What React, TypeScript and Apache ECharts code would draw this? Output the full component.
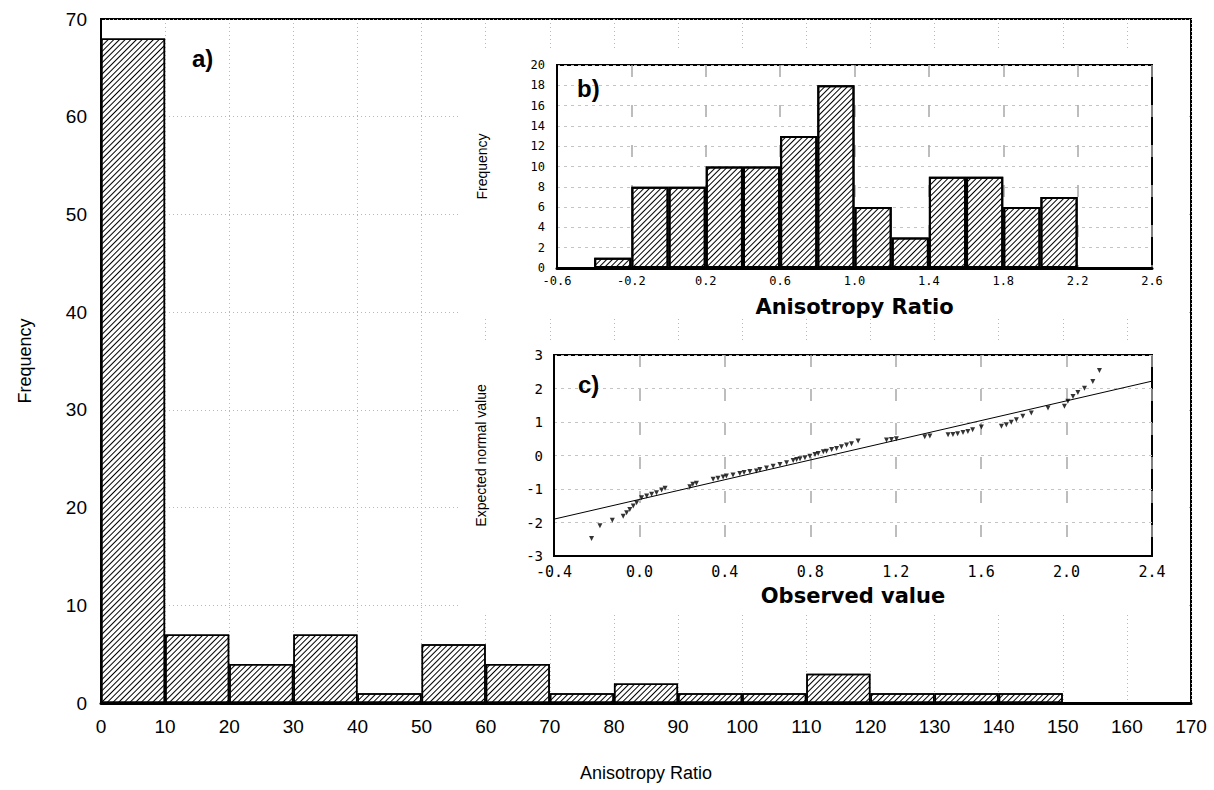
import React, { useEffect, useRef } from "react";
import * as echarts from "echarts";

// ---------- data ----------
// a) main histogram: bins of width 10, starting at these values
const mainBinStarts = [0, 10, 20, 30, 40, 50, 60, 70, 80, 90, 100, 110, 120, 130, 140];
const mainCounts = [68, 7, 4, 7, 1, 6, 4, 1, 2, 1, 1, 3, 1, 1, 1];
const mainBinWidth = 10;

// b) inset histogram: bins of width 0.2
const insetBinStarts = [-0.4, -0.2, 0, 0.2, 0.4, 0.6, 0.8, 1.0, 1.2, 1.4, 1.6, 1.8, 2.0];
const insetCounts = [1, 8, 8, 10, 10, 13, 18, 6, 3, 9, 9, 6, 7];
const insetBinWidth = 0.2;

// c) normal probability plot
const qqObserved = [
  -0.224, -0.185, -0.127, -0.076, -0.06, -0.045, -0.029, -0.013, 0.01, 0.034, 0.057, 0.08,
  0.104, 0.12, 0.236, 0.25, 0.267, 0.345, 0.368, 0.392, 0.407, 0.438, 0.47, 0.49, 0.517,
  0.548, 0.564, 0.595, 0.626, 0.658, 0.689, 0.72, 0.736, 0.752, 0.775, 0.798, 0.822, 0.837,
  0.861, 0.876, 0.9, 0.923, 0.946, 0.97, 0.993, 1.024, 1.157, 1.18, 1.203, 1.336, 1.36,
  1.445, 1.468, 1.49, 1.515, 1.538, 1.56, 1.601, 1.695, 1.718, 1.741, 1.765, 1.795, 1.835,
  1.913, 1.99, 2.006, 2.03, 2.053, 2.084, 2.123, 2.154,
];
const qqExpected = [
  -2.48, -2.1, -1.93, -1.81, -1.71, -1.61, -1.51, -1.41, -1.26, -1.21, -1.16, -1.11,
  -1.03, -0.98, -0.93, -0.86, -0.83, -0.71, -0.68, -0.64, -0.61, -0.58, -0.54, -0.51, -0.48,
  -0.46, -0.42, -0.37, -0.32, -0.27, -0.22, -0.15, -0.12, -0.1, -0.07, -0.02, 0.03, 0.06,
  0.11, 0.13, 0.18, 0.21, 0.26, 0.31, 0.35, 0.43, 0.46, 0.48, 0.5, 0.56, 0.58,
  0.62, 0.63, 0.65, 0.69, 0.72, 0.77, 0.85, 0.87, 0.92, 0.99, 1.07, 1.17, 1.27,
  1.42, 1.47, 1.62, 1.76, 1.88, 2.01, 2.21, 2.54,
];
const fitLineX = [-0.4, 2.4];
const fitLineY = [-1.9, 2.22];

// ---------- layout ----------
const W = 1214;
const H = 790;
const G0 = { left: 101, top: 19, width: 1090, height: 684 };
const G1 = { left: 557, top: 65, width: 595, height: 203 };
const G2 = { left: 554, top: 355, width: 598, height: 201 };

const fmt1 = (v: number) => (Math.abs(v) < 1e-9 ? "0.0" : v.toFixed(1));

const hatch = {
  symbol: "rect",
  symbolSize: 1,
  dashArrayX: [1, 0],
  dashArrayY: [1, 2.6],
  rotation: -Math.PI / 4,
  color: "#000",
  backgroundColor: "#fff",
};

export default function App() {
  const ref = useRef<HTMLDivElement>(null);
  useEffect(() => {
    if (!ref.current) return;
    const chart = echarts.init(ref.current, null, { renderer: "svg" });

    const mainData = mainBinStarts.map((s, i) => [s + mainBinWidth / 2, mainCounts[i]]);
    const insetData = insetBinStarts.map((s, i) => [s + insetBinWidth / 2, insetCounts[i]]);
    const qqData = qqObserved.map((x, i) => [x, qqExpected[i]]);
    const lineData = fitLineX.map((x, i) => [x, fitLineY[i]]);

    const mainFont = "'Liberation Sans Narrow', 'Liberation Sans', Arial, sans-serif";
    const monoFont = "'DejaVu Sans Mono', monospace";
    const wideBold = "'DejaVu Sans', Verdana, sans-serif";
    const arial = "'Liberation Sans', Arial, sans-serif";

    const mainBarW = (G0.width * mainBinWidth) / 170;
    const insetBarW = (G1.width * insetBinWidth) / 3.2;

    const insetHGrid = { show: true, lineStyle: { color: "#c4c4c4", type: [3, 4], width: 1 } };

    chart.setOption({
      animation: false,
      backgroundColor: "#fff",
      grid: [
        { ...G0, show: true, borderColor: "#000", borderWidth: 2, z: 0 },
        { ...G1, show: true, borderColor: "#000", borderWidth: 2, backgroundColor: "#fff", z: 5 },
        { ...G2, show: true, borderColor: "#000", borderWidth: 2, backgroundColor: "#fff", z: 5 },
      ],
      xAxis: [
        {
          gridIndex: 0,
          type: "value",
          min: 0,
          max: 170,
          interval: 10,
          name: "Anisotropy Ratio",
          nameLocation: "middle",
          nameGap: 61,
          nameTextStyle: { fontFamily: mainFont, fontSize: 18, color: "#000" },
          axisLine: { show: true, lineStyle: { color: "#000", width: 3 } },
          axisTick: { show: false },
          axisLabel: { fontFamily: mainFont, fontSize: 19, color: "#000", margin: 14 },
          splitLine: { show: true, lineStyle: { color: "#b8b8b8", type: [1, 3], width: 1 } },
        },
        {
          gridIndex: 1,
          type: "value",
          min: -0.6,
          max: 2.6,
          interval: 0.4,
          z: 6,
          name: "Anisotropy Ratio",
          nameLocation: "middle",
          nameGap: 28,
          nameTextStyle: { fontFamily: wideBold, fontSize: 21, fontWeight: "bold", color: "#000" },
          axisLine: { show: true, onZero: false, lineStyle: { color: "#000", width: 3 } },
          axisTick: { show: false },
          axisLabel: { fontFamily: monoFont, fontSize: 12, color: "#000", margin: 7, formatter: fmt1 },
          splitLine: { show: true, lineStyle: { color: "#a8a8a8", type: [12, 28], width: 1.5 } },
        },
        {
          gridIndex: 2,
          type: "value",
          min: -0.4,
          max: 2.4,
          interval: 0.4,
          z: 6,
          name: "Observed value",
          nameLocation: "middle",
          nameGap: 29,
          nameTextStyle: { fontFamily: wideBold, fontSize: 21, fontWeight: "bold", color: "#000" },
          axisLine: { show: true, onZero: false, lineStyle: { color: "#000", width: 2 } },
          axisTick: { show: false },
          axisLabel: { fontFamily: monoFont, fontSize: 15, color: "#000", margin: 8, formatter: fmt1 },
          splitLine: { show: true, lineStyle: { color: "#a8a8a8", type: [12, 22], width: 1.5 } },
        },
      ],
      yAxis: [
        {
          gridIndex: 0,
          type: "value",
          min: 0,
          max: 70,
          interval: 10,
          name: "Frequency",
          nameLocation: "middle",
          nameGap: 67,
          nameRotate: 90,
          nameTextStyle: { fontFamily: mainFont, fontSize: 18, color: "#000" },
          axisLine: { show: true, lineStyle: { color: "#000", width: 2 } },
          axisTick: { show: false },
          axisLabel: { fontFamily: mainFont, fontSize: 19, color: "#000", margin: 14 },
          splitLine: { show: true, lineStyle: { color: "#b8b8b8", type: [1, 3], width: 1 } },
        },
        {
          gridIndex: 1,
          type: "value",
          min: 0,
          max: 20,
          interval: 2,
          z: 6,
          name: "Frequency",
          nameLocation: "middle",
          nameGap: 68,
          nameRotate: 90,
          nameTextStyle: { fontFamily: arial, fontSize: 14, color: "#000" },
          axisLine: { show: true, onZero: false, lineStyle: { color: "#000", width: 2 } },
          axisTick: { show: false },
          axisLabel: { fontFamily: monoFont, fontSize: 12, color: "#000", margin: 12 },
          splitLine: insetHGrid,
        },
        {
          gridIndex: 2,
          type: "value",
          min: -3,
          max: 3,
          interval: 1,
          z: 6,
          name: "Expected normal value",
          nameLocation: "middle",
          nameGap: 66,
          nameRotate: 90,
          nameTextStyle: { fontFamily: arial, fontSize: 14, color: "#000" },
          axisLine: { show: true, onZero: false, lineStyle: { color: "#000", width: 2 } },
          axisTick: { show: false },
          axisLabel: { fontFamily: monoFont, fontSize: 14, color: "#000", margin: 11 },
          splitLine: insetHGrid,
        },
      ],
      graphic: [
        { type: "rect", z: 3, shape: { x: 458, y: 50, width: 730, height: 268 }, style: { fill: "#fff" } },
        { type: "rect", z: 3, shape: { x: 458, y: 340, width: 730, height: 272 }, style: { fill: "#fff" } },
        {
          type: "text", z: 20, x: 192, y: 46,
          style: { text: "a)", font: "bold 24px 'Liberation Sans', Arial, sans-serif", fill: "#000" },
        },
        {
          type: "text", z: 20, x: 577, y: 76,
          style: { text: "b)", font: "bold 24px 'Liberation Sans', Arial, sans-serif", fill: "#000" },
        },
        {
          type: "text", z: 20, x: 578, y: 372,
          style: { text: "c)", font: "bold 24px 'Liberation Sans', Arial, sans-serif", fill: "#000" },
        },
      ],
      series: [
        {
          type: "bar",
          xAxisIndex: 0,
          yAxisIndex: 0,
          barWidth: mainBarW,
          z: 2,
          data: mainData,
          itemStyle: { color: "#fff", borderColor: "#000", borderWidth: 1.5, decal: hatch },
        },
        {
          type: "bar",
          xAxisIndex: 1,
          yAxisIndex: 1,
          barWidth: insetBarW,
          z: 7,
          data: insetData,
          itemStyle: { color: "#fff", borderColor: "#000", borderWidth: 2, decal: hatch },
        },
        {
          type: "line",
          xAxisIndex: 2,
          yAxisIndex: 2,
          z: 7,
          data: lineData,
          showSymbol: false,
          symbol: "none",
          lineStyle: { color: "#000", width: 1 },
        },
        {
          type: "scatter",
          xAxisIndex: 2,
          yAxisIndex: 2,
          z: 8,
          data: qqData,
          symbol: "triangle",
          symbolRotate: 180,
          symbolSize: 5,
          itemStyle: { color: "#000" },
        },
      ],
    });
    return () => chart.dispose();
  }, []);

  return <div ref={ref} style={{ width: W, height: H, position: "absolute", left: 0, top: 0 }} />;
}
